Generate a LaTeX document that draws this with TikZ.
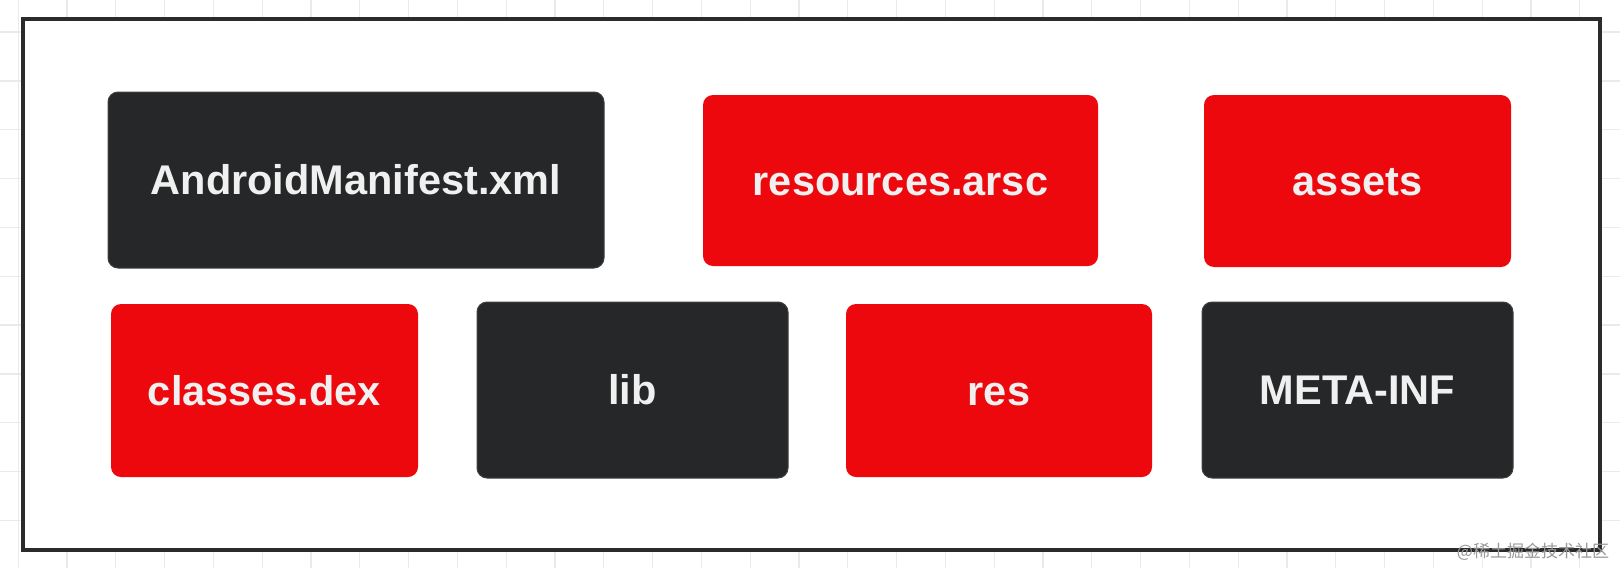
\documentclass[tikz,border=0pt]{standalone}
\usepackage{fontspec}
\setmainfont{Liberation Sans}
\newfontfamily\cjkwm{Noto Sans CJK SC}
\definecolor{darkbox}{HTML}{262728}
\definecolor{redbox}{HTML}{EC080D}
\definecolor{boxtext}{HTML}{F0F0F0}
\definecolor{gridcol}{HTML}{EAEAEA}
\definecolor{framecol}{HTML}{2A2B2D}
\begin{document}
\begin{tikzpicture}[x=1pt,y=-1pt,
  filebox/.style={rounded corners=10pt, inner sep=0pt, text=boxtext,
    font=\bfseries\fontsize{41.5}{48}\selectfont, text height=29.7pt, text depth=0pt},
  darkfile/.style={filebox, fill=darkbox, draw=darkbox!88!white, line width=1pt},
  redfile/.style={filebox, fill=redbox},
  gridline/.style={draw=gridcol, line width=1.3pt},
  frameline/.style={draw=framecol, line width=4pt, fill=white}]
\useasboundingbox (0,0) rectangle (1620,568);
\fill[white] (0,0) rectangle (1620,568);
% background grid
\foreach \i in {0,...,32} {
  \draw[gridline] ({18.2+48.8*\i},0) -- ({18.2+48.8*\i},568);
}
\foreach \j in {0,...,10} {
  \draw[gridline] (0,{32+48.85*\j}) -- (1620,{32+48.85*\j});
}
% outer frame
\draw[frameline] (23,19) rectangle (1600,550);
% file boxes
\node[darkfile, minimum width=496pt, minimum height=176pt] (am) at (356,180) {AndroidManifest.xml};
\node[redfile, minimum width=395pt, minimum height=171pt] (arsc) at (900.5,180.5) {resources.arsc};
\node[redfile, minimum width=307pt, minimum height=172pt] (assets) at (1357.5,181) {assets};
\node[redfile, minimum width=307pt, minimum height=173pt] (dex) at (264.5,390.5) {classes.dex};
\node[darkfile, minimum width=311pt, minimum height=176pt] (lib) at (632.5,390) {lib};
\node[redfile, minimum width=306pt, minimum height=173pt] (res) at (999,390.5) {res};
\node[darkfile, minimum width=311pt, minimum height=176pt] (meta) at (1357.5,390) {META-INF};
% watermark
\node[font=\cjkwm\fontsize{17}{17}\selectfont, text=black!40, inner sep=0pt] (wm) at (1533,552) {@稀土掘金技术社区};
\end{tikzpicture}
\end{document}
